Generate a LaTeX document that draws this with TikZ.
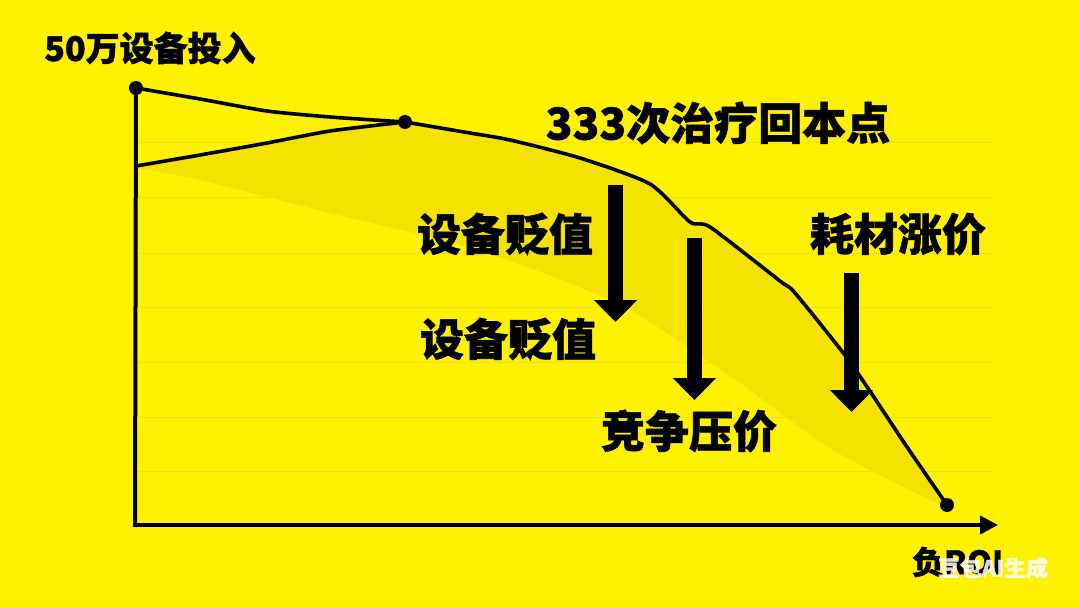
\documentclass[tikz,border=0pt]{standalone}
\usepackage{fontspec}
\newfontfamily\cjk{Noto Sans CJK SC}[BoldFeatures={FakeBold=1.3}]
\usetikzlibrary{arrows.meta}
\definecolor{bgyellow}{RGB}{255,242,0}
\definecolor{shadeyellow}{RGB}{240,220,0}
\definecolor{ruleline}{RGB}{238,226,30}
\tikzset{
  lbl/.style={font=\cjk\bfseries\fontsize{44}{44}\selectfont, inner sep=0pt, text=black},
  curveline/.style={line width=3.6pt, line join=round, line cap=round},
  bigarrow/.style={line width=15pt, -{Triangle[width=42pt,length=22pt]}},
  dotmark/.style={circle, fill=black, inner sep=0pt, minimum size=14pt},
}
\begin{document}
\begin{tikzpicture}[x=1pt,y=-1pt]
\useasboundingbox (0,0) rectangle (1080,607);
\fill[bgyellow] (0,0) rectangle (1080,607);
% faint ruled lines
\foreach \yy in {143,198,253,307,362,417,471}
  \draw[ruleline, line width=1pt] (137,\yy) -- (995,\yy);
% shaded band
\fill[shadeyellow, opacity=0.7]
  plot[smooth, tension=0.4] coordinates {(405,122) (470,133) (510,140) (580,158) (650,184) (690,222) (710,227) (780,281) (795,293) (850,362) (907,447) (947,505)}
  -- plot[smooth, tension=0.5] coordinates {(945,507) (833,450) (740,383) (650,322) (600,296) (530,268) (450,242) (330,213) (200,180) (136,168)}
  -- plot[smooth, tension=0.4] coordinates {(136,166) (200,155) (267,143) (330,131) (405,122)} -- cycle;
% points
\node[dotmark] (p0) at (136,88) {};
\node[dotmark] (p1) at (405,122) {};
\node[dotmark] (p2) at (947,505) {};
\coordinate (orig) at (135,525);
\coordinate (xend) at (998,525);
% axes
\draw[line width=4pt, line cap=rect] (p0.center) -- (orig);
\draw[line width=4pt, -{Triangle[width=18pt,length=18pt]}] (orig) -- (xend);
% lines
\draw[curveline] plot[smooth, tension=0.4] coordinates {(136,88) (200,99) (267,111) (330,117) (405,122)};
\draw[curveline] plot[smooth, tension=0.4] coordinates {(136,166) (200,155) (267,143) (330,131) (405,122)};
\draw[curveline] plot[smooth, tension=0.4] coordinates {(405,122) (470,133) (510,140) (580,158) (650,184) (690,222) (710,227) (780,281) (795,293) (850,362) (907,447) (947,505)};
% arrows
\coordinate (a1s) at (615.5,185); \coordinate (a1e) at (615.5,322);
\coordinate (a2s) at (694.5,238); \coordinate (a2e) at (694.5,400);
\coordinate (a3s) at (851.5,273); \coordinate (a3e) at (851.5,412);
\draw[bigarrow] (a1s) -- (a1e);
\draw[bigarrow] (a2s) -- (a2e);
\draw[bigarrow] (a3s) -- (a3e);
% labels
\node[lbl, font=\cjk\bfseries\fontsize{34}{34}\selectfont] (t0) at (150,48) {50万设备投入};
\node[lbl] (t1) at (718,123) {333次治疗回本点};
\node[lbl] (t2) at (505,234) {设备贬值};
\node[lbl] (t3) at (508,339) {设备贬值};
\node[lbl] (t4) at (689,431) {竞争压价};
\node[lbl] (t5) at (898,234) {耗材涨价};
\node[lbl, font=\cjk\bfseries\fontsize{32}{32}\selectfont, anchor=west] (t6) at (912,562) {负ROI};
\node[font=\cjk\bfseries\fontsize{22}{22}\selectfont, text=white, text opacity=0.85, inner sep=0pt] (wm) at (993,568) {豆包AI生成};
\end{tikzpicture}
\end{document}
